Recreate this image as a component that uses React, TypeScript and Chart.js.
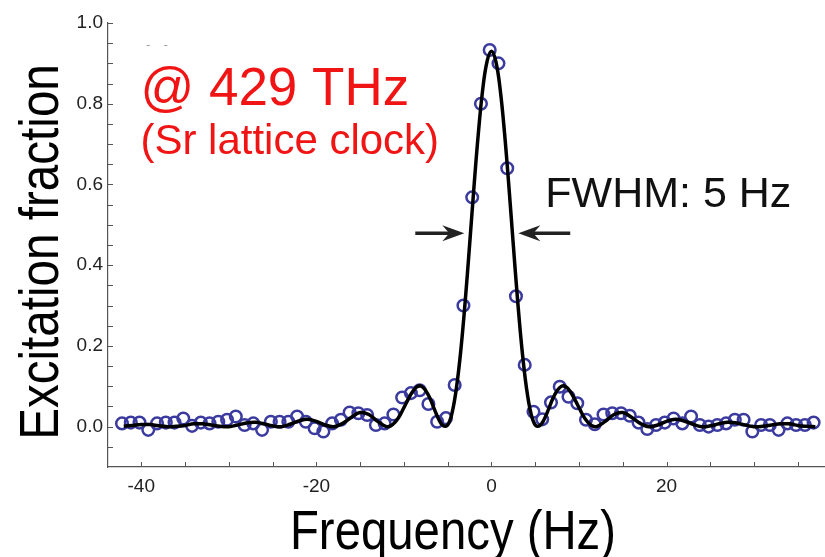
import { useEffect, useRef } from "react";
import { Chart, registerables } from "chart.js";

Chart.register(...registerables);

// ---- measured points (Hz, excitation fraction) ----
const PT_FREQ = [
  -42.2, -41.2, -40.2, -39.2, -38.2, -37.2, -36.2, -35.2, -34.2, -33.2,
  -32.2, -31.2, -30.2, -29.2, -28.2, -27.2, -26.2, -25.2, -24.2, -23.2,
  -22.2, -21.2, -20.2, -19.2, -18.2, -17.2, -16.2, -15.2, -14.2, -13.2,
  -12.2, -11.2, -10.2, -9.2, -8.2, -7.2, -6.2, -5.2, -4.2, -3.2,
  -2.2, -1.2, -0.2, 0.8, 1.8, 2.8, 3.8, 4.8, 5.8, 6.8,
  7.8, 8.8, 9.8, 10.8, 11.8, 12.8, 13.8, 14.8, 15.8, 16.8,
  17.8, 18.8, 19.8, 20.8, 21.8, 22.8, 23.8, 24.8, 25.8, 26.8,
  27.8, 28.8, 29.8, 30.8, 31.8, 32.8, 33.8, 34.8, 35.8, 36.8,
];
const PT_EXC = [
  0.008, 0.010, 0.010, -0.008, 0.008, 0.010, 0.010, 0.020, 0.002, 0.010,
  0.008, 0.012, 0.017, 0.025, 0.004, 0.008, -0.008, 0.012, 0.012, 0.012,
  0.025, 0.012, -0.004, -0.012, 0.008, 0.017, 0.035, 0.033, 0.029, 0.004,
  0.008, 0.030, 0.072, 0.083, 0.090, 0.056, 0.012, 0.021, 0.103, 0.300,
  0.568, 0.800, 0.933, 0.900, 0.640, 0.323, 0.153, 0.037, 0.018, 0.060,
  0.099, 0.074, 0.058, 0.017, 0.006, 0.030, 0.033, 0.033, 0.027, 0.010,
  -0.006, 0.004, 0.010, 0.020, 0.008, 0.025, 0.004, 0.000, 0.004, 0.008,
  0.017, 0.017, -0.012, 0.004, 0.004, -0.008, 0.008, 0.004, 0.004, 0.010,
];

// ---- fitted line shape ----
const FIT_FREQ = [
  -42, -41, -40, -39, -38, -37, -36, -35, -34, -33, -32, -31, -30, -29, -28,
  -27, -26, -25, -24, -23, -22, -21, -20, -19, -18, -17, -16, -15, -14, -13,
  -12, -11.5, -11, -10.5, -10, -9.5, -9, -8.5, -8, -7.5, -7, -6.5, -6, -5.5,
  -5, -4.5, -4, -3.5, -3, -2.5, -2, -1.5, -1, -0.5, 0, 0.5, 1, 1.5, 2, 2.5,
  3, 3.5, 4, 4.5, 5, 5.5, 6, 6.5, 7, 7.5, 8, 8.5, 9, 9.5, 10, 10.5, 11, 11.5,
  12, 13, 14, 15, 16, 17, 18, 19, 20, 21, 22, 23, 24, 25, 26, 27, 28, 29, 30,
  31, 32, 33, 34, 35, 36, 37,
];
const FIT_EXC = [
  0.001, 0.003, 0.005, 0.005, 0.002, 0.000, 0.001, 0.003, 0.007, 0.007, 0.004, 0.001, 0.000, 0.004, 0.009,
  0.011, 0.007, 0.002, 0.000, 0.006, 0.014, 0.018, 0.013, 0.004, 0.000, 0.008, 0.023, 0.035, 0.030, 0.013,
  0.000, 0.002, 0.011, 0.026, 0.047, 0.068, 0.087, 0.099, 0.100, 0.089, 0.069, 0.042, 0.017, 0.002,
  0.004, 0.034, 0.096, 0.189, 0.310, 0.449, 0.593, 0.726, 0.835, 0.905, 0.930, 0.905, 0.835, 0.726, 0.593, 0.449,
  0.310, 0.189, 0.096, 0.034, 0.004, 0.002, 0.017, 0.042, 0.069, 0.089, 0.100, 0.099, 0.087, 0.068, 0.047, 0.026, 0.011, 0.002,
  0.000, 0.013, 0.030, 0.035, 0.023, 0.008, 0.000, 0.004, 0.013, 0.018, 0.014, 0.006, 0.000, 0.002, 0.007, 0.011, 0.009, 0.004, 0.000,
  0.001, 0.004, 0.007, 0.007, 0.003, 0.001, 0.000,
];

// ---- axes ----
const X_TICKS = [-40, -20, 0, 20];
const Y_TICKS = [0, 0.2, 0.4, 0.6, 0.8, 1.0];
const X_MINOR = [-40, -35, -30, -25, -20, -15, -10, -5, 0, 5, 10, 15, 20, 25, 30, 35];
const Y_MINOR = [
  -0.05, 0, 0.05, 0.1, 0.15, 0.2, 0.25, 0.3, 0.35, 0.4, 0.45, 0.5,
  0.55, 0.6, 0.65, 0.7, 0.75, 0.8, 0.85, 0.9, 0.95, 1.0,
];

const SANS = "'Liberation Sans', Arial, sans-serif";

export default function App() {
  const ref = useRef<HTMLCanvasElement>(null);

  useEffect(() => {
    const canvas = ref.current;
    if (!canvas) return;

    const decor = {
      id: "decor",
      afterDraw(chart: any) {
        const { ctx, chartArea } = chart;
        const xs = chart.scales.x;
        const ys = chart.scales.y;
        ctx.save();

        // inward tick marks
        ctx.strokeStyle = "#555";
        ctx.lineWidth = 1;
        ctx.beginPath();
        X_MINOR.forEach((v) => {
          const px = Math.round(xs.getPixelForValue(v)) + 0.5;
          ctx.moveTo(px, chartArea.bottom);
          ctx.lineTo(px, chartArea.bottom - 5);
        });
        Y_MINOR.forEach((v) => {
          const py = Math.round(ys.getPixelForValue(v)) + 0.5;
          ctx.moveTo(chartArea.left, py);
          ctx.lineTo(chartArea.left + 5, py);
        });
        ctx.stroke();

        // faint scan marks near the top-left
        ctx.strokeStyle = "#999";
        ctx.lineWidth = 1;
        ctx.beginPath();
        [-39.2, -37.2].forEach((v) => {
          const px = xs.getPixelForValue(v);
          const py = Math.round(ys.getPixelForValue(0.945)) + 0.5;
          ctx.moveTo(px - 1.5, py);
          ctx.lineTo(px + 1.5, py);
        });
        ctx.stroke();

        // annotations
        ctx.textBaseline = "alphabetic";
        ctx.textAlign = "left";
        ctx.fillStyle = "#f01414";
        ctx.font = `53px ${SANS}`;
        ctx.fillText("@ 429 THz", xs.getPixelForValue(-40.1), ys.getPixelForValue(0.796));
        ctx.font = `42px ${SANS}`;
        ctx.fillText("(Sr lattice clock)", xs.getPixelForValue(-40.1), ys.getPixelForValue(0.675));
        ctx.fillStyle = "#111";
        ctx.font = `43px ${SANS}`;
        ctx.fillText("FWHM: 5 Hz", xs.getPixelForValue(6.15), ys.getPixelForValue(0.544));

        // arrows
        const drawArrow = (tailV: number, tipV: number, yV: number) => {
          const tx = xs.getPixelForValue(tailV);
          const hx = xs.getPixelForValue(tipV);
          const py = ys.getPixelForValue(yV);
          const dir = Math.sign(hx - tx);
          ctx.strokeStyle = "#222";
          ctx.fillStyle = "#222";
          ctx.lineWidth = 3.4;
          ctx.beginPath();
          ctx.moveTo(tx, py);
          ctx.lineTo(hx - dir * 12, py);
          ctx.stroke();
          ctx.beginPath();
          ctx.moveTo(hx, py);
          ctx.lineTo(hx - dir * 22, py - 8);
          ctx.lineTo(hx - dir * 15, py);
          ctx.lineTo(hx - dir * 22, py + 8);
          ctx.closePath();
          ctx.fill();
        };
        drawArrow(-8.7, -3.1, 0.479);
        drawArrow(9.0, 3.07, 0.479);

        // axis titles (condensed sans)
        ctx.fillStyle = "#000";
        ctx.font = `56px ${SANS}`;
        ctx.textAlign = "center";
        ctx.save();
        ctx.translate(453, 549);
        ctx.scale(0.845, 1);
        ctx.fillText("Frequency (Hz)", 0, 0);
        ctx.restore();
        ctx.save();
        ctx.translate(58, 252);
        ctx.rotate(-Math.PI / 2);
        ctx.scale(0.85, 1);
        ctx.fillText("Excitation fraction", 0, 0);
        ctx.restore();

        ctx.restore();
      },
    };

    const chart = new Chart(canvas, {
      type: "scatter",
      data: {
        datasets: [
          {
            label: "fit",
            data: FIT_FREQ.map((f, i) => ({ x: f, y: FIT_EXC[i] })),
            showLine: true,
            borderColor: "#000",
            borderWidth: 3.5,
            pointRadius: 0,
            tension: 0.4,
            fill: false,
            order: 0,
          },
          {
            label: "data",
            data: PT_FREQ.map((f, i) => ({ x: f, y: PT_EXC[i] })),
            showLine: false,
            pointRadius: 5.8,
            pointBorderWidth: 2.5,
            pointBorderColor: "#3b3b9f",
            pointBackgroundColor: "rgba(0,0,0,0)",
            order: 1,
          },
        ],
      },
      options: {
        responsive: false,
        animation: false,
        layout: { autoPadding: false, padding: { top: 23, right: 0, bottom: 0, left: 0 } },
        plugins: { legend: { display: false }, tooltip: { enabled: false } },
        scales: {
          x: {
            type: "linear",
            min: -43.8,
            max: 38.1,
            grid: { display: false, drawTicks: false, tickLength: 0 },
            border: { display: true, color: "#555", width: 1.2 },
            ticks: {
              font: { family: SANS, size: 19 },
              color: "#222",
              padding: 8,
              maxRotation: 0,
              autoSkip: false,
              callback: (v: any) => String(v),
            },
            afterBuildTicks: (s: any) => {
              s.ticks = X_TICKS.map((v) => ({ value: v }));
            },
            afterFit: (s: any) => {
              s.height = 90;
              s.paddingLeft = 0;
              s.paddingRight = 0;
            },
          },
          y: {
            type: "linear",
            min: -0.1,
            max: 1.0,
            grid: { display: false, drawTicks: false, tickLength: 0 },
            border: { display: true, color: "#555", width: 1.2 },
            ticks: {
              font: { family: SANS, size: 19 },
              color: "#222",
              padding: 5,
              autoSkip: false,
              callback: (v: any) => Number(v).toFixed(1),
            },
            afterBuildTicks: (s: any) => {
              s.ticks = Y_TICKS.map((v) => ({ value: v }));
            },
            afterFit: (s: any) => {
              s.width = 108;
            },
          },
        },
      },
      plugins: [decor],
    });

    return () => chart.destroy();
  }, []);

  return (
    <div style={{ position: "absolute", left: 0, top: 0, width: 825, height: 557, background: "#fff" }}>
      <canvas ref={ref} width={825} height={557} style={{ display: "block" }} />
    </div>
  );
}
